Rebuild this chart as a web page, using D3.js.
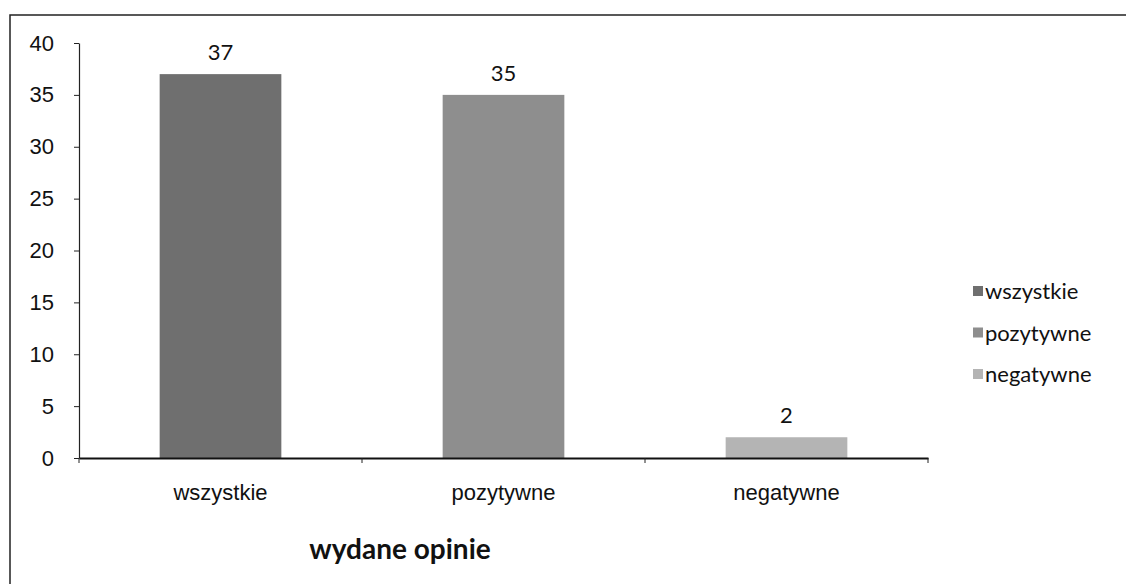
<!DOCTYPE html>
<html>
<head>
<meta charset="utf-8">
<script src="https://cdn.jsdelivr.net/npm/d3@7"></script>
<style>
  body { margin: 0; background: #fff; }
  svg { display: block; font-family: Lato, "Open Sans", sans-serif; }
</style>
</head>
<body>
<svg id="chart"></svg>
<script>
// data
const categories = ["wszystkie", "pozytywne", "negatywne"];
const values = [37, 35, 2];
const yTicks = [0, 5, 10, 15, 20, 25, 30, 35, 40];
const axisTitle = "wydane opinie";

const width = 1126, height = 584;
const margin = { top: 43, left: 79, right: 198, bottom: 126 };
const fills = ["#6f6f6f", "#8e8e8e", "#b4b4b4"];
const fontSize = 22;

const svg = d3.select("#chart").attr("width", width).attr("height", height);

// frame (only top and left edges survive in the scan)
svg.append("path")
  .attr("d", `M10,${height} L10,15 L${width},15`)
  .attr("fill", "none").attr("stroke", "#222").attr("stroke-width", 1.5);

const x = d3.scaleBand().domain(categories)
  .range([margin.left, width - margin.right]).paddingInner(0.57).paddingOuter(0.285);
const y = d3.scaleLinear().domain([0, 40]).range([height - margin.bottom, margin.top]);

// y axis
const yAxis = svg.append("g")
  .attr("transform", `translate(${margin.left},0)`)
  .call(d3.axisLeft(y).tickValues(yTicks).tickSize(5).tickSizeOuter(0).tickPadding(20));
yAxis.select(".domain").attr("stroke", "#222").attr("stroke-width", 1.2);
yAxis.selectAll(".tick line").attr("stroke", "#222");
yAxis.selectAll("text").attr("font-size", fontSize).attr("fill", "#111");

// bars
svg.selectAll("rect.bar")
  .data(values)
  .join("rect")
  .attr("class", "bar")
  .attr("x", (d, i) => x(categories[i]))
  .attr("y", d => y(d))
  .attr("width", x.bandwidth())
  .attr("height", d => y(0) - y(d))
  .attr("fill", (d, i) => fills[i]);

// value labels
svg.selectAll("text.val")
  .data(values)
  .join("text")
  .attr("class", "val")
  .attr("x", (d, i) => x(categories[i]) + x.bandwidth() / 2)
  .attr("y", d => y(d) - 14)
  .attr("text-anchor", "middle")
  .attr("font-size", fontSize)
  .attr("fill", "#111")
  .text(d => d);

// x axis, ticks between categories
const xAxis = svg.append("g")
  .attr("transform", `translate(0,${y(0)})`)
  .call(d3.axisBottom(x).tickSize(0).tickPadding(26));
xAxis.select(".domain").attr("stroke", "#111").attr("stroke-width", 2);
xAxis.selectAll("text").attr("font-size", fontSize).attr("fill", "#111");
const step = x.step();
xAxis.selectAll("line.sep")
  .data(d3.range(categories.length + 1))
  .join("line")
  .attr("class", "sep")
  .attr("x1", i => margin.left + i * step)
  .attr("x2", i => margin.left + i * step)
  .attr("y1", 0).attr("y2", 5)
  .attr("stroke", "#222");

// axis title
svg.append("text")
  .attr("x", 400).attr("y", 559)
  .attr("text-anchor", "middle")
  .attr("font-size", 28).attr("font-weight", "bold")
  .attr("fill", "#111")
  .text(axisTitle);

// legend
const legend = svg.append("g").attr("transform", "translate(973,291)");
const item = legend.selectAll("g")
  .data(categories)
  .join("g")
  .attr("transform", (d, i) => `translate(0,${i * 41.5})`);
item.append("rect")
  .attr("x", 0).attr("y", -5).attr("width", 10).attr("height", 10)
  .attr("fill", (d, i) => fills[i]);
item.append("text")
  .attr("x", 12).attr("y", 8)
  .attr("font-size", fontSize).attr("fill", "#111")
  .text(d => d);
</script>
</body>
</html>
